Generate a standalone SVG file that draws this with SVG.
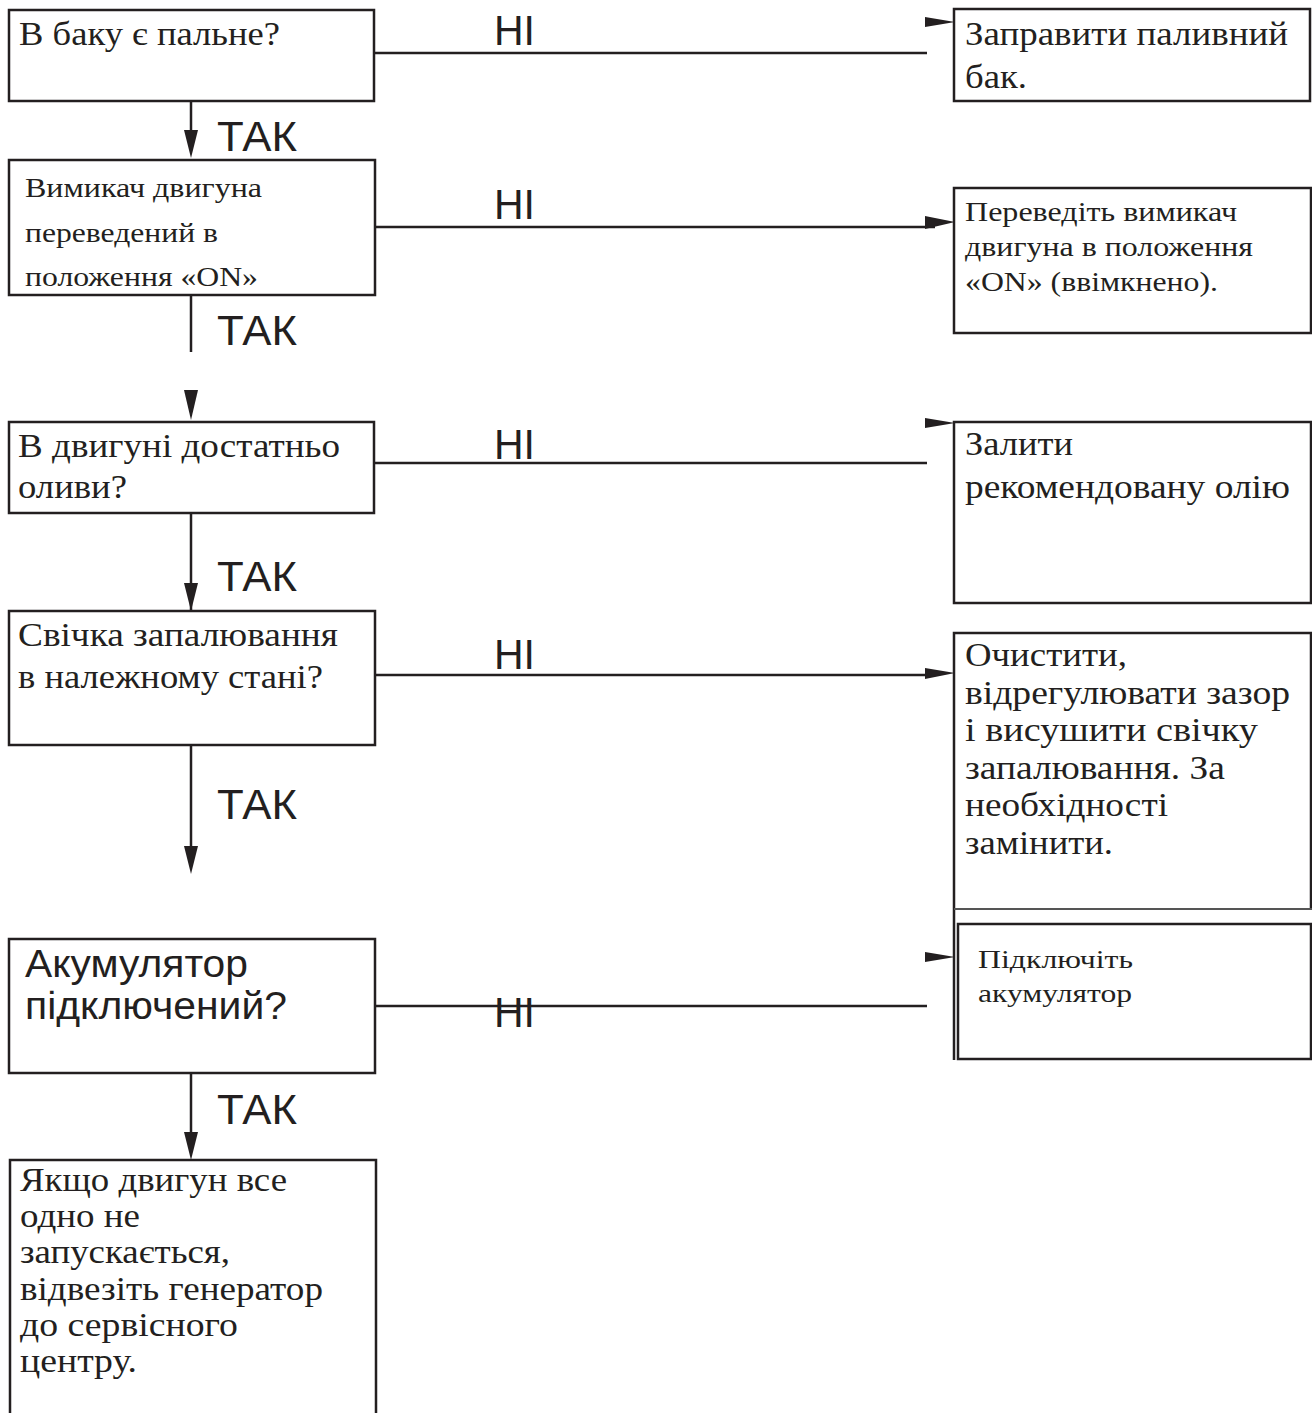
<svg xmlns="http://www.w3.org/2000/svg" width="1312" height="1413" viewBox="0 0 1312 1413">
<style>
.box{fill:#fff;stroke:#231f20;stroke-width:2.5}
.ln{fill:none;stroke:#231f20;stroke-width:2.5}
.ah{fill:#231f20;stroke:none}
.s{font-family:"Liberation Serif","Times New Roman",serif;fill:#231f20}
.b{font-size:34px}
.m{font-size:28px}
.lbl{font-family:"Liberation Sans",Arial,sans-serif;font-size:42px;fill:#231f20}
.sans{font-family:"Liberation Sans",Arial,sans-serif;fill:#231f20}
</style>
<rect width="1312" height="1413" fill="#fff"/>
<g id="connectors">
  <line class="ln" x1="191" y1="102" x2="191" y2="132"/>
  <polygon class="ah" points="184,130 198,130 191,158"/>
  <line class="ln" x1="191" y1="295" x2="191" y2="352"/>
  <polygon class="ah" points="184,390 198,390 191,420"/>
  <line class="ln" x1="191" y1="513" x2="191" y2="620"/>
  <polygon class="ah" points="184,583 198,583 191,611"/>
  <line class="ln" x1="191" y1="745" x2="191" y2="848"/>
  <polygon class="ah" points="184,846 198,846 191,874"/>
  <line class="ln" x1="191" y1="1073" x2="191" y2="1134"/>
  <polygon class="ah" points="184,1132 198,1132 191,1160"/>
  <line class="ln" x1="374" y1="53" x2="927" y2="53"/>
  <polygon class="ah" points="925,17 955,22 925,27"/>
  <line class="ln" x1="375" y1="227" x2="935" y2="227"/>
  <polygon class="ah" points="925,216 955,222 925,229"/>
  <line class="ln" x1="374" y1="463" x2="927" y2="463"/>
  <polygon class="ah" points="925,418 955,423 925,428"/>
  <line class="ln" x1="375" y1="675" x2="935" y2="675"/>
  <polygon class="ah" points="925,668 955,673 925,679"/>
  <line class="ln" x1="375" y1="1006" x2="927" y2="1006"/>
  <polygon class="ah" points="925,952 955,957 925,962"/>
  <text class="lbl" x="217" y="151" textLength="80" lengthAdjust="spacingAndGlyphs">ТАК</text>
  <text class="lbl" x="217" y="345" textLength="80" lengthAdjust="spacingAndGlyphs">ТАК</text>
  <text class="lbl" x="217" y="591" textLength="80" lengthAdjust="spacingAndGlyphs">ТАК</text>
  <text class="lbl" x="217" y="819" textLength="80" lengthAdjust="spacingAndGlyphs">ТАК</text>
  <text class="lbl" x="217" y="1124" textLength="80" lengthAdjust="spacingAndGlyphs">ТАК</text>
  <text class="lbl" x="494" y="45" textLength="41" lengthAdjust="spacingAndGlyphs">НІ</text>
  <text class="lbl" x="494" y="219" textLength="41" lengthAdjust="spacingAndGlyphs">НІ</text>
  <text class="lbl" x="494" y="459" textLength="41" lengthAdjust="spacingAndGlyphs">НІ</text>
  <text class="lbl" x="494" y="669" textLength="41" lengthAdjust="spacingAndGlyphs">НІ</text>
  <text class="lbl" x="494" y="1027" textLength="41" lengthAdjust="spacingAndGlyphs">НІ</text>
</g>
<g id="q1">
  <rect class="box" x="9" y="10" width="365" height="91"/>
  <text class="s b" x="19" y="45" textLength="261" lengthAdjust="spacingAndGlyphs">В баку є пальне?</text>
</g>
<g id="q2">
  <rect class="box" x="9" y="160" width="366" height="135"/>
  <text class="s m" x="25" y="197" textLength="237" lengthAdjust="spacingAndGlyphs">Вимикач двигуна</text>
  <text class="s m" x="25" y="242" textLength="193" lengthAdjust="spacingAndGlyphs">переведений в</text>
  <text class="s m" x="25" y="286" textLength="233" lengthAdjust="spacingAndGlyphs">положення «ON»</text>
</g>
<g id="q3">
  <rect class="box" x="9" y="422" width="365" height="91"/>
  <text class="s b" x="18" y="457" textLength="322" lengthAdjust="spacingAndGlyphs">В двигуні достатньо</text>
  <text class="s b" x="18" y="498" textLength="109" lengthAdjust="spacingAndGlyphs">оливи?</text>
</g>
<g id="q4">
  <rect class="box" x="9" y="611" width="366" height="134"/>
  <text class="s b" x="18" y="646" textLength="320" lengthAdjust="spacingAndGlyphs">Свічка запалювання</text>
  <text class="s b" x="18" y="688" textLength="305" lengthAdjust="spacingAndGlyphs">в належному стані?</text>
</g>
<g id="q5">
  <rect class="box" x="9" y="939" width="366" height="134"/>
  <text class="sans" x="25" y="977" font-size="38" textLength="223" lengthAdjust="spacingAndGlyphs">Акумулятор</text>
  <text class="sans" x="25" y="1019" font-size="38" textLength="262" lengthAdjust="spacingAndGlyphs">підключений?</text>
</g>
<g id="end">
  <path class="ln" d="M10,1413 V1160 H376 V1413"/>
  <text class="s b" x="20" y="1191" textLength="267" lengthAdjust="spacingAndGlyphs">Якщо двигун все</text>
  <text class="s b" x="20" y="1227" textLength="120" lengthAdjust="spacingAndGlyphs">одно не</text>
  <text class="s b" x="20" y="1263" textLength="210" lengthAdjust="spacingAndGlyphs">запускається,</text>
  <text class="s b" x="20" y="1300" textLength="303" lengthAdjust="spacingAndGlyphs">відвезіть генератор</text>
  <text class="s b" x="20" y="1336" textLength="218" lengthAdjust="spacingAndGlyphs">до сервісного</text>
  <text class="s b" x="20" y="1372" textLength="117" lengthAdjust="spacingAndGlyphs">центру.</text>
</g>
<g id="r1">
  <rect class="box" x="954" y="9" width="356" height="92"/>
  <text class="s b" x="965" y="45" textLength="323" lengthAdjust="spacingAndGlyphs">Заправити паливний</text>
  <text class="s b" x="965" y="88" textLength="62" lengthAdjust="spacingAndGlyphs">бак.</text>
</g>
<g id="r2">
  <rect class="box" x="954" y="188" width="357" height="145"/>
  <text class="s m" x="965" y="221" textLength="272" lengthAdjust="spacingAndGlyphs">Переведіть вимикач</text>
  <text class="s m" x="965" y="256" textLength="288" lengthAdjust="spacingAndGlyphs">двигуна в положення</text>
  <text class="s m" x="965" y="291" textLength="253" lengthAdjust="spacingAndGlyphs">«ON» (ввімкнено).</text>
</g>
<g id="r3">
  <rect class="box" x="954" y="422" width="357" height="181"/>
  <text class="s b" x="965" y="455" textLength="108" lengthAdjust="spacingAndGlyphs">Залити</text>
  <text class="s b" x="965" y="498" textLength="325" lengthAdjust="spacingAndGlyphs">рекомендовану олію</text>
</g>
<g id="r4">
  <path class="ln" d="M954,1060 V633 H1311 V909"/>
  <line x1="954" y1="909" x2="1312" y2="909" stroke="#555" stroke-width="2"/>
  <text class="s b" x="965" y="666" textLength="162" lengthAdjust="spacingAndGlyphs">Очистити,</text>
  <text class="s b" x="965" y="704" textLength="325" lengthAdjust="spacingAndGlyphs">відрегулювати зазор</text>
  <text class="s b" x="965" y="741" textLength="293" lengthAdjust="spacingAndGlyphs">і висушити свічку</text>
  <text class="s b" x="965" y="779" textLength="260" lengthAdjust="spacingAndGlyphs">запалювання. За</text>
  <text class="s b" x="965" y="816" textLength="203" lengthAdjust="spacingAndGlyphs">необхідності</text>
  <text class="s b" x="965" y="854" textLength="148" lengthAdjust="spacingAndGlyphs">замінити.</text>
</g>
<g id="r5">
  <rect class="box" x="958" y="924" width="353" height="135"/>
  <text class="s" x="978" y="968" font-size="26" textLength="155" lengthAdjust="spacingAndGlyphs">Підключіть</text>
  <text class="s" x="978" y="1002" font-size="26" textLength="154" lengthAdjust="spacingAndGlyphs">акумулятор</text>
</g>
</svg>
